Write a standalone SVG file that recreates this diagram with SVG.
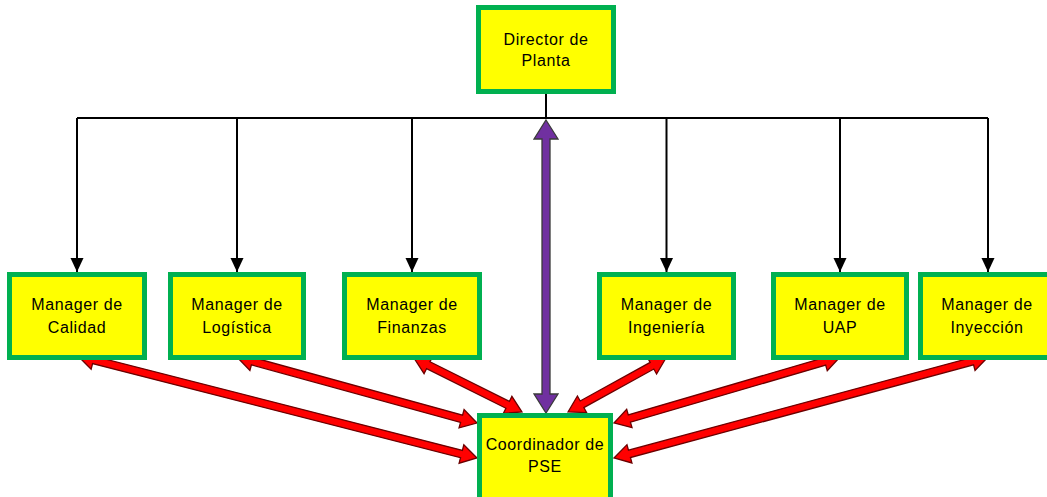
<svg xmlns="http://www.w3.org/2000/svg" width="1047" height="497" viewBox="0 0 1047 497">
  <style>
    .box { fill: #FFFF00; stroke: #00B050; stroke-width: 5; }
    .lbl { font-family: "Liberation Sans", Arial, sans-serif; font-size: 16px; letter-spacing: 0.6px; fill: #000; text-anchor: middle; }
    .tree { fill: none; stroke: #000; stroke-width: 2; }
    .red { fill: #FF0000; stroke: #6B0000; stroke-width: 1.3; stroke-linejoin: miter; }
    .purple { fill: #7030A0; stroke: #3A3A3A; stroke-width: 1.3; }
  </style>
  <defs>
    <marker id="tip" markerUnits="userSpaceOnUse" markerWidth="14" markerHeight="14" refX="14" refY="6.5" orient="auto">
      <path d="M0,0 L14,6.5 L0,13 Z" fill="#000"/>
    </marker>
  </defs>

  <rect width="1047" height="497" fill="#FFFFFF"/>

  <!-- connectors -->
  <g id="connectors">
    <!-- reporting tree from the director -->
    <path class="tree" d="M546,94 V118 M77,118 H988"/>
    <line class="tree" x1="77" y1="118" x2="77" y2="272" marker-end="url(#tip)"/>
    <line class="tree" x1="237" y1="118" x2="237" y2="272" marker-end="url(#tip)"/>
    <line class="tree" x1="412" y1="118" x2="412" y2="272" marker-end="url(#tip)"/>
    <line class="tree" x1="666.5" y1="118" x2="666.5" y2="272" marker-end="url(#tip)"/>
    <line class="tree" x1="840" y1="118" x2="840" y2="272" marker-end="url(#tip)"/>
    <line class="tree" x1="988" y1="118" x2="988" y2="272" marker-end="url(#tip)"/>

    <!-- director to coordinator, two-way -->
    <path class="purple" d="M546,120 L558,139 L550,139 L550,394 L558,394 L546,413 L534,394 L542,394 L542,139 L534,139 Z"/>

    <!-- two-way links between managers and coordinator -->
    <path class="red" transform="translate(78,356) rotate(14.34)" d="M0,0 L16,-9.5 L16,-3.8 L395.8,-3.8 L395.8,-9.5 L411.8,0 L395.8,9.5 L395.8,3.8 L16,3.8 L16,9.5 Z"/>
    <path class="red" transform="translate(237,357) rotate(15.38)" d="M0,0 L16,-9.5 L16,-3.8 L232.9,-3.8 L232.9,-9.5 L248.9,0 L232.9,9.5 L232.9,3.8 L16,3.8 L16,9.5 Z"/>
    <path class="red" transform="translate(414,358) rotate(26.57)" d="M0,0 L16,-9.5 L16,-3.8 L104.7,-3.8 L104.7,-9.5 L120.7,0 L104.7,9.5 L104.7,3.8 L16,3.8 L16,9.5 Z"/>
    <path class="red" transform="translate(568,412) rotate(-28.86)" d="M0,0 L16,-9.5 L16,-3.8 L95.9,-3.8 L95.9,-9.5 L111.9,0 L95.9,9.5 L95.9,3.8 L16,3.8 L16,9.5 Z"/>
    <path class="red" transform="translate(614,423) rotate(-16.28)" d="M0,0 L16,-9.5 L16,-3.8 L219.4,-3.8 L219.4,-9.5 L235.4,0 L219.4,9.5 L219.4,3.8 L16,3.8 L16,9.5 Z"/>
    <path class="red" transform="translate(614,458) rotate(-15.11)" d="M0,0 L16,-9.5 L16,-3.8 L371.4,-3.8 L371.4,-9.5 L387.4,0 L371.4,9.5 L371.4,3.8 L16,3.8 L16,9.5 Z"/>
  </g>

  <!-- nodes -->
  <g id="director">
    <rect class="box" x="478.5" y="7.5" width="135" height="84"/>
    <text class="lbl" x="546" y="45">Director de</text>
    <text class="lbl" x="546" y="66">Planta</text>
  </g>
  <g id="calidad">
    <rect class="box" x="9.5" y="274.5" width="135" height="83"/>
    <text class="lbl" x="77" y="310">Manager de</text>
    <text class="lbl" x="77" y="333">Calidad</text>
  </g>
  <g id="logistica">
    <rect class="box" x="170.5" y="274.5" width="133" height="83"/>
    <text class="lbl" x="237" y="310">Manager de</text>
    <text class="lbl" x="237" y="333">Logística</text>
  </g>
  <g id="finanzas">
    <rect class="box" x="344.5" y="274.5" width="135" height="83"/>
    <text class="lbl" x="412" y="310">Manager de</text>
    <text class="lbl" x="412" y="333">Finanzas</text>
  </g>
  <g id="ingenieria">
    <rect class="box" x="599.5" y="274.5" width="134" height="83"/>
    <text class="lbl" x="666.5" y="310">Manager de</text>
    <text class="lbl" x="666.5" y="333">Ingeniería</text>
  </g>
  <g id="uap">
    <rect class="box" x="773.5" y="274.5" width="133" height="83"/>
    <text class="lbl" x="840" y="310">Manager de</text>
    <text class="lbl" x="840" y="333">UAP</text>
  </g>
  <g id="inyeccion">
    <rect class="box" x="920.5" y="274.5" width="135" height="83"/>
    <text class="lbl" x="987" y="310">Manager de</text>
    <text class="lbl" x="987" y="333">Inyección</text>
  </g>
  <g id="coordinador">
    <rect class="box" x="479.5" y="415.5" width="131" height="84"/>
    <text class="lbl" x="545" y="450">Coordinador de</text>
    <text class="lbl" x="545" y="472">PSE</text>
  </g>
</svg>
